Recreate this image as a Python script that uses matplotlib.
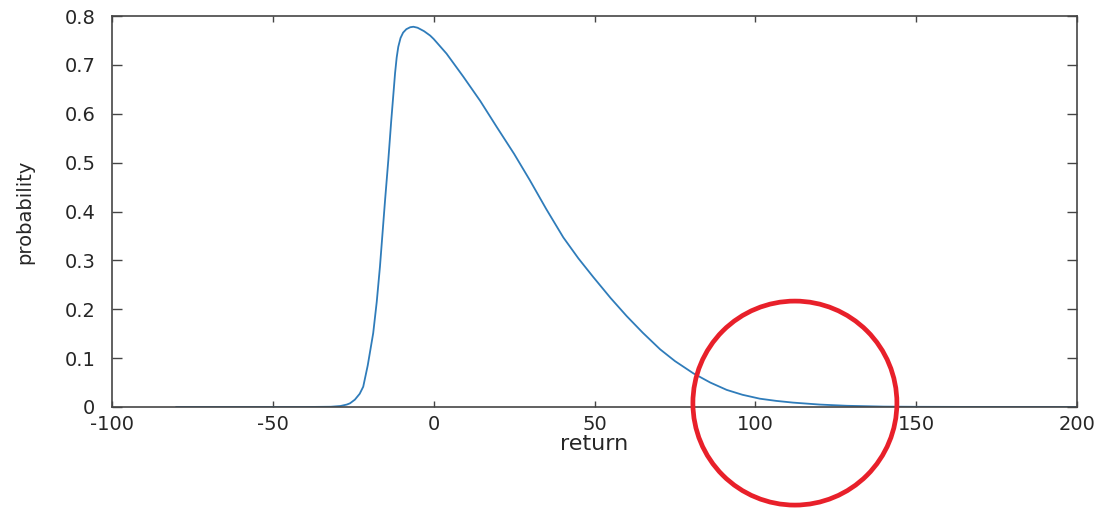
import matplotlib
matplotlib.use("Agg")
import matplotlib.pyplot as plt
from matplotlib.patches import Ellipse
from matplotlib import font_manager

# ---- data ----
ret = [-80, -60, -40, -32, -29, -27, -26, -24.5, -23, -21.9, -20.5, -18.8, -17.7,
       -16.7, -15.1, -14.1, -13.2, -12.5, -12.0, -11.5, -11.0, -10.3, -9.5, -8.5,
       -7.3, -6.3, -5.0, -3.0, -1.1, 0.0, 4.0, 9.2, 14.5, 19.6, 25.0, 29.9, 35.0,
       40.3, 45.0, 49.6, 55.0, 60.0, 65.0, 70.4, 75.0, 80.7, 86.0, 91.1, 96.0,
       101.4, 106.5, 111.7, 120.0, 128.4, 140.0, 150.0, 170.0, 200.0]
prob = [0.0, 0.0, 0.0, 0.0005, 0.002, 0.005, 0.0076, 0.015, 0.027, 0.0415, 0.085,
        0.151, 0.215, 0.287, 0.424, 0.505, 0.585, 0.642, 0.683, 0.715, 0.737,
        0.755, 0.766, 0.773, 0.777, 0.778, 0.776, 0.769, 0.760, 0.753, 0.723,
        0.676, 0.626, 0.573, 0.518, 0.464, 0.405, 0.347, 0.304, 0.266, 0.223,
        0.186, 0.152, 0.118, 0.094, 0.069, 0.050, 0.035, 0.025, 0.017, 0.0125,
        0.009, 0.005, 0.0025, 0.0008, 0.0004, 0.0001, 0.0]

x_ticks = [-100, -50, 0, 50, 100, 150, 200]
x_tick_labels = ["-100", "-50", "0", "50", "100", "150", "200"]
y_ticks = [0, 0.1, 0.2, 0.3, 0.4, 0.5, 0.6, 0.7, 0.8]
y_tick_labels = ["0", "0.1", "0.2", "0.3", "0.4", "0.5", "0.6", "0.7", "0.8"]
x_label = "return"
y_label = "probability"

# highlight circle annotation (data position, pixel radius)
highlight_center = (112.3, 0.008)
highlight_radius_px = 102

# ---- figure ----
W, H, DPI = 1104, 508, 100
fig = plt.figure(figsize=(W / DPI, H / DPI), dpi=DPI)
L, R, B, T = 112, 1077, 407, 16
ax = fig.add_axes([L / W, (H - B) / H, (R - L) / W, (B - T) / H])

ax.plot(ret, prob, color="#2f7cba", lw=1.3, solid_joinstyle="round")

ax.set_xlim(-100, 200)
ax.set_ylim(0, 0.8)
ax.set_xticks(x_ticks)
ax.set_xticklabels(x_tick_labels)
ax.set_yticks(y_ticks)
ax.set_yticklabels(y_tick_labels)

frame_col = "#454545"
for s in ax.spines.values():
    s.set_color(frame_col)
    s.set_linewidth(1.2)

ax.tick_params(axis="x", direction="in", length=4, width=1, colors=frame_col,
               top=True, pad=6, labelsize=14, labelcolor="#262626")
ax.tick_params(axis="y", direction="in", length=7, width=1, colors=frame_col,
               right=True, pad=12, labelsize=14, labelcolor="#262626")
for lab in ax.get_xticklabels() + ax.get_yticklabels():
    lab.set_family("DejaVu Sans")

ax.set_xlabel(x_label, fontsize=16, color="#262626", family="DejaVu Sans",
              labelpad=0)

ylab_family = "DejaVu Sans"
for cand in ["Liberation Sans Narrow", "DejaVu Sans Condensed"]:
    try:
        font_manager.findfont(font_manager.FontProperties(family=cand),
                              fallback_to_default=False)
        ylab_family = cand
        break
    except Exception:
        pass
ax.set_ylabel(y_label, fontsize=14, color="#262626", family=ylab_family,
              labelpad=22)

# red highlight circle
wd = 2 * highlight_radius_px / ((R - L) / 300.0)
ht = 2 * highlight_radius_px / ((B - T) / 0.8)
ax.add_patch(Ellipse(highlight_center, wd, ht, transform=ax.transData,
                     fill=False, edgecolor="#e8202a", lw=3.4, clip_on=False,
                     zorder=5))

fig.savefig("out.png", dpi=DPI)
